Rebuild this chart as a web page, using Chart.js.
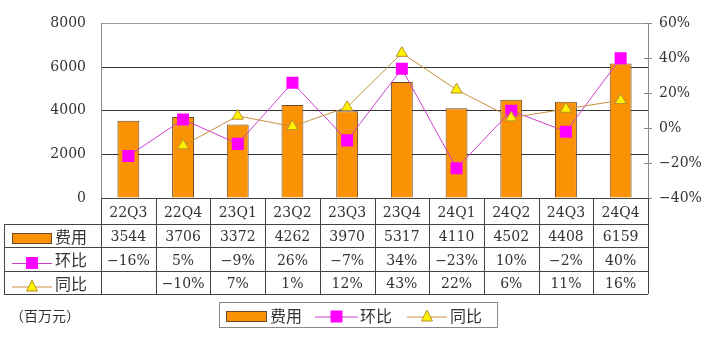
<!DOCTYPE html>
<html>
<head>
<meta charset="utf-8">
<script src="https://cdn.jsdelivr.net/npm/chart.js@4/dist/chart.umd.min.js"></script>
<style>
  html, body { margin: 0; padding: 0; background: #fff; }
  #wrap { width: 719px; height: 346px; position: relative; }
</style>
</head>
<body>
<div id="wrap"><canvas id="c" width="719" height="346"></canvas></div>
<script>
// Quarterly expense (百万元) with quarter-on-quarter and year-on-year change (%)
const quarters = ['22Q3', '22Q4', '23Q1', '23Q2', '23Q3', '23Q4', '24Q1', '24Q2', '24Q3', '24Q4'];
const expense = [3544, 3706, 3372, 4262, 3970, 5317, 4110, 4502, 4408, 6159];
const qoq = [-16, 5, -9, 26, -7, 34, -23, 10, -2, 40];
const yoy = [null, -10, 7, 1, 12, 43, 22, 6, 11, 16];
const leftTicks = [0, 2000, 4000, 6000, 8000];
const rightTicks = [-40, -20, 0, 20, 40, 60];
const seriesNames = ['费用', '环比', '同比'];
const unitLabel = '（百万元）';

const NUM_FONT = '"DejaVu Serif", "Liberation Serif", serif';
const CJK_FONT = '"Noto Sans CJK SC", "Noto Sans", sans-serif';
const TEXT = '#333';
const BAR_FILL = '#FA9203';
const BAR_EDGE = '#6b4b2b';
const QOQ_LINE = '#CC3FCC';
const QOQ_MARK = '#FF00FF';
const YOY_LINE = '#C8913C';
const YOY_MARK = '#FFF200';

const pct = v => (v < 0 ? '\u2212' + Math.abs(v) : String(v)) + '%';

function drawSquare(ctx, cx, cy, s) {
  ctx.fillStyle = QOQ_MARK;
  ctx.fillRect(cx - s / 2, cy - s / 2, s, s);
}
function drawTriangle(ctx, cx, cy, w, h) {
  ctx.beginPath();
  ctx.moveTo(cx, cy - h / 2);
  ctx.lineTo(cx + w / 2, cy + h / 2);
  ctx.lineTo(cx - w / 2, cy + h / 2);
  ctx.closePath();
  ctx.fillStyle = YOY_MARK;
  ctx.fill();
  ctx.strokeStyle = '#B89030';
  ctx.lineWidth = 1;
  ctx.stroke();
}
function legendGlyph(ctx, i, x0, x1, cy) {
  const mid = (x0 + x1) / 2;
  if (i === 0) {
    ctx.fillStyle = BAR_FILL;
    ctx.fillRect(x0, cy - 5.5, x1 - x0, 11);
    ctx.strokeStyle = BAR_EDGE;
    ctx.lineWidth = 1;
    ctx.strokeRect(x0 + 0.5, cy - 5, x1 - x0 - 1, 10);
  } else if (i === 1) {
    ctx.strokeStyle = QOQ_LINE;
    ctx.lineWidth = 1;
    ctx.beginPath(); ctx.moveTo(x0, cy + 0.5); ctx.lineTo(x1, cy + 0.5); ctx.stroke();
    drawSquare(ctx, mid, cy, 12);
  } else {
    ctx.strokeStyle = YOY_LINE;
    ctx.lineWidth = 1;
    ctx.beginPath(); ctx.moveTo(x0, cy + 0.5); ctx.lineTo(x1, cy + 0.5); ctx.stroke();
    drawTriangle(ctx, mid, cy - 1, 11, 11);
  }
}

// Data table under the plot, legend box and unit caption
const tablePlugin = {
  id: 'dataTable',
  afterDraw(chart) {
    const ctx = chart.ctx;
    const xs = chart.scales.x;
    const y1 = chart.scales.y1;
    const area = chart.chartArea;
    const n = quarters.length;
    const colW = (area.right - area.left) / n;
    const top = Math.round(area.bottom);
    const rows = [top, top + 26, top + 49, top + 73, top + 96];
    const tableLeft = 4;

    ctx.save();
    // cross tick marks on the right axis
    ctx.strokeStyle = '#888';
    ctx.lineWidth = 1;
    rightTicks.forEach(v => {
      const y = Math.round(y1.getPixelForValue(v)) + 0.5;
      ctx.beginPath(); ctx.moveTo(area.right - 4, y); ctx.lineTo(area.right, y); ctx.stroke();
    });

    // grid of the table
    ctx.strokeStyle = '#444';
    ctx.lineWidth = 1;
    ctx.beginPath();
    ctx.moveTo(area.left, top + 0.5); ctx.lineTo(area.right, top + 0.5);
    for (let r = 1; r < rows.length; r++) {
      ctx.moveTo(tableLeft, rows[r] + 0.5); ctx.lineTo(area.right, rows[r] + 0.5);
    }
    for (let i = 0; i <= n; i++) {
      const x = Math.round(area.left + i * colW) + 0.5;
      ctx.moveTo(x, top); ctx.lineTo(x, rows[4]);
    }
    ctx.moveTo(tableLeft + 0.5, rows[1]); ctx.lineTo(tableLeft + 0.5, rows[4]);
    ctx.stroke();

    // cell text
    ctx.fillStyle = TEXT;
    ctx.textAlign = 'center';
    ctx.textBaseline = 'middle';
    ctx.font = '14px ' + NUM_FONT;
    const rowVals = [quarters, expense.map(String), qoq.map(v => v == null ? '' : pct(v)), yoy.map(v => v == null ? '' : pct(v))];
    rowVals.forEach((vals, r) => {
      const cy = (rows[r] + rows[r + 1]) / 2 + 2;
      vals.forEach((t, i) => {
        const cx = xs.getPixelForValue(i);
        ctx.fillText(t, cx, cy);
      });
    });

    // row headers with series symbols
    seriesNames.forEach((name, i) => {
      const cy = (rows[i + 1] + rows[i + 2]) / 2;
      legendGlyph(ctx, i, 12, 52, cy + (i === 0 ? 3 : 4));
      ctx.fillStyle = TEXT;
      ctx.font = '16px ' + CJK_FONT;
      ctx.textAlign = 'left';
      ctx.textBaseline = 'middle';
      ctx.fillText(name, 55, cy + 1);
    });

    // legend box
    const lx0 = 219, lx1 = 497, ly0 = 302, ly1 = 327;
    ctx.strokeStyle = '#888';
    ctx.lineWidth = 1;
    ctx.strokeRect(lx0 + 0.5, ly0 + 0.5, lx1 - lx0, ly1 - ly0);
    const lcy = (ly0 + ly1) / 2;
    const items = [[226, 267, 270], [315, 358, 360], [407, 447, 450]];
    items.forEach((it, i) => {
      legendGlyph(ctx, i, it[0], it[1], lcy + 2);
      ctx.fillStyle = TEXT;
      ctx.font = '16px ' + CJK_FONT;
      ctx.textAlign = 'left';
      ctx.textBaseline = 'middle';
      ctx.fillText(seriesNames[i], it[2], lcy + 1);
    });

    // unit caption
    ctx.font = '14px ' + CJK_FONT;
    ctx.fillText(unitLabel, 10, 316);
    ctx.restore();
  }
};

new Chart(document.getElementById('c'), {
  data: {
    labels: quarters,
    datasets: [
      {
        type: 'bar', label: seriesNames[0], data: expense, yAxisID: 'y', order: 3,
        backgroundColor: BAR_FILL, borderColor: BAR_EDGE, borderWidth: 1,
        barPercentage: 0.4, categoryPercentage: 1
      },
      {
        type: 'line', label: seriesNames[1], data: qoq, yAxisID: 'y1', order: 2,
        borderColor: QOQ_LINE, borderWidth: 1, tension: 0,
        pointStyle: 'rect', pointRadius: 8.5, pointBackgroundColor: QOQ_MARK,
        pointBorderColor: QOQ_MARK, pointBorderWidth: 0
      },
      {
        type: 'line', label: seriesNames[2], data: yoy, yAxisID: 'y1', order: 1,
        borderColor: YOY_LINE, borderWidth: 1, tension: 0,
        pointStyle: 'triangle', pointRadius: 6.5, pointBackgroundColor: YOY_MARK,
        pointBorderColor: '#B89030', pointBorderWidth: 1
      }
    ]
  },
  options: {
    responsive: false,
    animation: false,
    layout: { padding: { top: 14, bottom: 148, left: 0, right: 0 } },
    plugins: { legend: { display: false }, tooltip: { enabled: false } },
    scales: {
      x: { type: 'category', offset: true, display: false },
      y: {
        position: 'left', min: 0, max: 8000,
        afterBuildTicks: s => { s.ticks = leftTicks.map(v => ({ value: v })); },
        afterFit: s => { s.width = 101; },
        grid: {
          color: c => (c.tick && c.tick.value === 8000 ? '#999' : '#333'),
          drawTicks: false, lineWidth: 1
        },
        border: { display: true, color: '#888', width: 1 },
        ticks: { color: TEXT, font: { family: NUM_FONT, size: 14 }, padding: 15, callback: v => String(v) }
      },
      y1: {
        position: 'right', min: -40, max: 60,
        afterBuildTicks: s => { s.ticks = rightTicks.map(v => ({ value: v })); },
        afterFit: s => { s.width = 71; },
        grid: { drawOnChartArea: false, drawTicks: true, tickLength: 4, color: '#888' },
        border: { display: true, color: '#888', width: 1 },
        ticks: { color: TEXT, font: { family: NUM_FONT, size: 14 }, padding: 7, callback: v => pct(v) }
      }
    }
  },
  plugins: [tablePlugin]
});
</script>
</body>
</html>
